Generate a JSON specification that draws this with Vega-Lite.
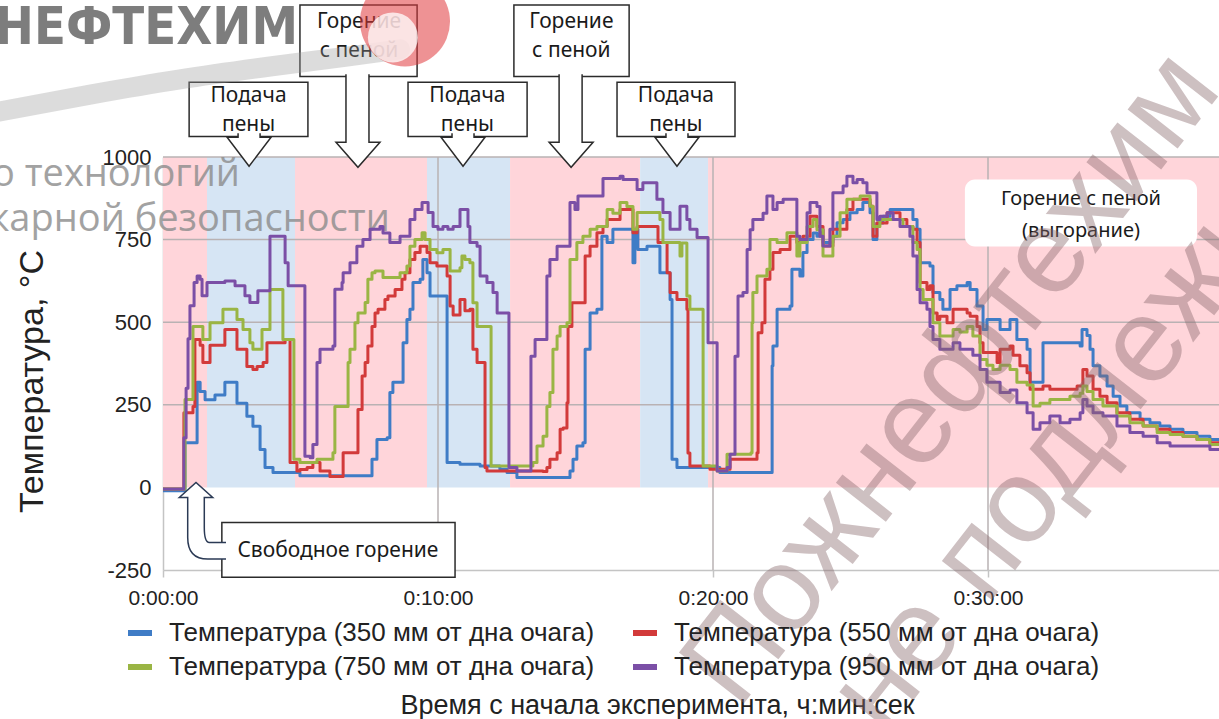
{
"$schema": "https://vega.github.io/schema/vega-lite/v6.json",
"width": 1056, "height": 413,
"autosize": {"type": "none"},
"padding": {"left": 163, "top": 157, "right": 0, "bottom": 149},
"background": "white",
"config": {"view": {"stroke": null}, "font": "Liberation Sans"},
"datasets": {
"bands": [
{"phase":"burn","t0":0,"t1":1.6},{"phase":"foam","t0":1.6,"t1":4.8},{"phase":"burn","t0":4.8,"t1":9.6},{"phase":"foam","t0":9.6,"t1":12.62},{"phase":"burn","t0":12.62,"t1":17.35},{"phase":"foam","t0":17.35,"t1":19.82},{"phase":"burn","t0":19.82,"t1":38.4}],
"hgrid": [{"v":250},{"v":500},{"v":750},{"v":1000}],
"vgrid": [{"t":10},{"t":20},{"t":30}],
"boxes": [
{"t0":0.95,"t1":5.27,"v0":1062,"v1":1226},
{"t0":4.98,"t1":9.24,"v0":1244,"v1":1460},
{"t0":8.91,"t1":13.24,"v0":1062,"v1":1226},
{"t0":12.76,"t1":16.95,"v0":1244,"v1":1460},
{"t0":16.51,"t1":20.8,"v0":1062,"v1":1226},
{"t0":2.14,"t1":10.62,"v0":-272,"v1":-106}],
"rbox": [{"t0":29.16,"t1":37.6,"v0":729,"v1":932}],
"arrows": [
{"t":3.13,"v":972,"kind":"short"},
{"t":7.09,"v":969,"kind":"long"},
{"t":10.91,"v":972,"kind":"short"},
{"t":14.84,"v":969,"kind":"long"},
{"t":18.69,"v":972,"kind":"short"}],
"callout": [{"t":1.2,"v":15}],
"anntop": [
{"t":3.11,"v":1186,"txt":"Подача"},{"t":3.11,"v":1096,"txt":"пены"},
{"t":7.13,"v":1410,"txt":"Горение"},{"t":7.13,"v":1320,"txt":"с пеной"},
{"t":11.07,"v":1186,"txt":"Подача"},{"t":11.07,"v":1096,"txt":"пены"},
{"t":14.85,"v":1410,"txt":"Горение"},{"t":14.85,"v":1320,"txt":"с пеной"},
{"t":18.65,"v":1186,"txt":"Подача"},{"t":18.65,"v":1096,"txt":"пены"},
{"t":6.36,"v":-194,"txt":"Свободное горение"}],
"annright": [{"t":33.38,"v":872,"txt":"Горение с пеной"},{"t":33.38,"v":775,"txt":"(выгорание)"}],
"logo": [{"t":4.91,"v":1341,"txt":"ЖНЕФТЕХИМ"}],
"swoosh": [{"t":-5.93,"v":1138},{"t":-2.65,"v":1189},{"t":0.62,"v":1235},{"t":3.89,"v":1274},{"t":6.69,"v":1304},{"t":8.62,"v":1326}],
"flame": [{"t":8.8,"v":1410}],
"flamecore": [{"t":8.36,"v":1362}],
"wmsmall": [{"t":2.8,"v":911,"txt":"о технологий"},{"t":8.25,"v":775,"txt":"карной безопасности"}],
"wmbig": [{"t":28.7,"v":330,"txt":"Пожнефтехим"}],
"wmbig2": [{"t":25.2,"v":-690,"txt":"не подлежит распространению"}],
"temps": [
{"sensor":"350","t":0,"temp":-10},{"sensor":"350","t":0.65,"temp":-10},{"sensor":"350","t":0.8,"temp":135},{"sensor":"350","t":1.16,"temp":135},{"sensor":"350","t":1.24,"temp":318},{"sensor":"350","t":1.35,"temp":290},{"sensor":"350","t":1.53,"temp":265},{"sensor":"350","t":1.89,"temp":280},{"sensor":"350","t":2.25,"temp":318},{"sensor":"350","t":2.36,"temp":318},{"sensor":"350","t":2.69,"temp":255},{"sensor":"350","t":3.05,"temp":215},{"sensor":"350","t":3.27,"temp":185},{"sensor":"350","t":3.42,"temp":185},{"sensor":"350","t":3.53,"temp":115},{"sensor":"350","t":3.71,"temp":60},{"sensor":"350","t":4.0,"temp":45},{"sensor":"350","t":4.62,"temp":45},{"sensor":"350","t":4.98,"temp":35},{"sensor":"350","t":7.42,"temp":35},{"sensor":"350","t":7.6,"temp":85},{"sensor":"350","t":7.78,"temp":145},{"sensor":"350","t":8.15,"temp":150},{"sensor":"350","t":8.25,"temp":287},{"sensor":"350","t":8.36,"temp":318},{"sensor":"350","t":8.62,"temp":318},{"sensor":"350","t":8.73,"temp":438},{"sensor":"350","t":8.87,"temp":508},{"sensor":"350","t":8.98,"temp":539},{"sensor":"350","t":9.09,"temp":620},{"sensor":"350","t":9.35,"temp":630},{"sensor":"350","t":9.45,"temp":690},{"sensor":"350","t":9.6,"temp":650},{"sensor":"350","t":9.71,"temp":579},{"sensor":"350","t":10.18,"temp":579},{"sensor":"350","t":10.33,"temp":75},{"sensor":"350","t":10.8,"temp":70},{"sensor":"350","t":11.53,"temp":65},{"sensor":"350","t":12.25,"temp":55},{"sensor":"350","t":12.51,"temp":45},{"sensor":"350","t":12.87,"temp":30},{"sensor":"350","t":14.69,"temp":30},{"sensor":"350","t":14.8,"temp":50},{"sensor":"350","t":14.91,"temp":85},{"sensor":"350","t":15.05,"temp":125},{"sensor":"350","t":15.27,"temp":135},{"sensor":"350","t":15.35,"temp":418},{"sensor":"350","t":15.53,"temp":528},{"sensor":"350","t":15.78,"temp":539},{"sensor":"350","t":15.93,"temp":539},{"sensor":"350","t":15.96,"temp":760},{"sensor":"350","t":16.15,"temp":741},{"sensor":"350","t":16.36,"temp":781},{"sensor":"350","t":16.98,"temp":781},{"sensor":"350","t":17.09,"temp":680},{"sensor":"350","t":17.16,"temp":781},{"sensor":"350","t":17.27,"temp":720},{"sensor":"350","t":17.45,"temp":720},{"sensor":"350","t":17.6,"temp":730},{"sensor":"350","t":17.96,"temp":730},{"sensor":"350","t":18.07,"temp":650},{"sensor":"350","t":18.33,"temp":650},{"sensor":"350","t":18.44,"temp":569},{"sensor":"350","t":18.51,"temp":85},{"sensor":"350","t":18.69,"temp":60},{"sensor":"350","t":20.15,"temp":60},{"sensor":"350","t":20.25,"temp":45},{"sensor":"350","t":22.07,"temp":45},{"sensor":"350","t":22.15,"temp":368},{"sensor":"350","t":22.18,"temp":428},{"sensor":"350","t":22.33,"temp":539},{"sensor":"350","t":22.8,"temp":549},{"sensor":"350","t":22.87,"temp":660},{"sensor":"350","t":23.16,"temp":640},{"sensor":"350","t":23.27,"temp":711},{"sensor":"350","t":23.42,"temp":750},{"sensor":"350","t":23.64,"temp":770},{"sensor":"350","t":23.78,"temp":760},{"sensor":"350","t":23.89,"temp":780},{"sensor":"350","t":24.0,"temp":741},{"sensor":"350","t":24.25,"temp":741},{"sensor":"350","t":24.36,"temp":760},{"sensor":"350","t":24.51,"temp":801},{"sensor":"350","t":24.73,"temp":811},{"sensor":"350","t":24.98,"temp":831},{"sensor":"350","t":25.24,"temp":841},{"sensor":"350","t":25.45,"temp":862},{"sensor":"350","t":25.71,"temp":831},{"sensor":"350","t":25.82,"temp":750},{"sensor":"350","t":25.96,"temp":800},{"sensor":"350","t":26.18,"temp":821},{"sensor":"350","t":26.44,"temp":841},{"sensor":"350","t":27.05,"temp":841},{"sensor":"350","t":27.27,"temp":811},{"sensor":"350","t":27.42,"temp":781},{"sensor":"350","t":27.53,"temp":680},{"sensor":"350","t":27.89,"temp":670},{"sensor":"350","t":28.0,"temp":590},{"sensor":"350","t":28.25,"temp":569},{"sensor":"350","t":28.36,"temp":539},{"sensor":"350","t":28.62,"temp":599},{"sensor":"350","t":28.87,"temp":610},{"sensor":"350","t":29.24,"temp":620},{"sensor":"350","t":29.35,"temp":599},{"sensor":"350","t":29.6,"temp":549},{"sensor":"350","t":29.82,"temp":478},{"sensor":"350","t":29.96,"temp":508},{"sensor":"350","t":30.33,"temp":508},{"sensor":"350","t":30.44,"temp":478},{"sensor":"350","t":30.8,"temp":508},{"sensor":"350","t":31.05,"temp":448},{"sensor":"350","t":31.42,"temp":418},{"sensor":"350","t":31.53,"temp":318},{"sensor":"350","t":31.89,"temp":318},{"sensor":"350","t":32.0,"temp":438},{"sensor":"350","t":33.35,"temp":428},{"sensor":"350","t":33.42,"temp":478},{"sensor":"350","t":33.6,"temp":460},{"sensor":"350","t":33.71,"temp":418},{"sensor":"350","t":33.82,"temp":368},{"sensor":"350","t":34.07,"temp":337},{"sensor":"350","t":34.33,"temp":307},{"sensor":"350","t":34.55,"temp":276},{"sensor":"350","t":34.8,"temp":246},{"sensor":"350","t":35.05,"temp":226},{"sensor":"350","t":35.53,"temp":206},{"sensor":"350","t":35.89,"temp":196},{"sensor":"350","t":36.25,"temp":186},{"sensor":"350","t":36.62,"temp":176},{"sensor":"350","t":37.09,"temp":166},{"sensor":"350","t":37.6,"temp":155},{"sensor":"350","t":38.07,"temp":145},{"sensor":"350","t":38.4,"temp":140},
{"sensor":"550","t":0,"temp":-5},{"sensor":"550","t":0.65,"temp":-5},{"sensor":"550","t":0.76,"temp":226},{"sensor":"550","t":1.09,"temp":245},{"sensor":"550","t":1.16,"temp":448},{"sensor":"550","t":1.35,"temp":430},{"sensor":"550","t":1.45,"temp":378},{"sensor":"550","t":1.64,"temp":378},{"sensor":"550","t":1.71,"temp":430},{"sensor":"550","t":1.96,"temp":430},{"sensor":"550","t":2.25,"temp":478},{"sensor":"550","t":2.36,"temp":478},{"sensor":"550","t":2.69,"temp":418},{"sensor":"550","t":3.05,"temp":366},{"sensor":"550","t":3.27,"temp":357},{"sensor":"550","t":3.42,"temp":366},{"sensor":"550","t":3.64,"temp":378},{"sensor":"550","t":3.78,"temp":438},{"sensor":"550","t":4.36,"temp":438},{"sensor":"550","t":4.44,"temp":448},{"sensor":"550","t":4.51,"temp":448},{"sensor":"550","t":4.62,"temp":75},{"sensor":"550","t":4.87,"temp":50},{"sensor":"550","t":4.98,"temp":54},{"sensor":"550","t":5.24,"temp":60},{"sensor":"550","t":5.45,"temp":75},{"sensor":"550","t":5.71,"temp":50},{"sensor":"550","t":6.07,"temp":33},{"sensor":"550","t":6.33,"temp":33},{"sensor":"550","t":6.55,"temp":105},{"sensor":"550","t":7.05,"temp":105},{"sensor":"550","t":7.09,"temp":236},{"sensor":"550","t":7.24,"temp":337},{"sensor":"550","t":7.35,"temp":378},{"sensor":"550","t":7.45,"temp":428},{"sensor":"550","t":7.6,"temp":487},{"sensor":"550","t":7.71,"temp":528},{"sensor":"550","t":7.82,"temp":539},{"sensor":"550","t":7.96,"temp":539},{"sensor":"550","t":8.07,"temp":569},{"sensor":"550","t":8.18,"temp":579},{"sensor":"550","t":8.33,"temp":579},{"sensor":"550","t":8.44,"temp":599},{"sensor":"550","t":8.55,"temp":599},{"sensor":"550","t":8.69,"temp":630},{"sensor":"550","t":8.8,"temp":650},{"sensor":"550","t":8.98,"temp":690},{"sensor":"550","t":9.16,"temp":711},{"sensor":"550","t":9.35,"temp":730},{"sensor":"550","t":9.45,"temp":730},{"sensor":"550","t":9.6,"temp":711},{"sensor":"550","t":9.71,"temp":680},{"sensor":"550","t":9.82,"temp":680},{"sensor":"550","t":9.96,"temp":670},{"sensor":"550","t":10.18,"temp":670},{"sensor":"550","t":10.33,"temp":640},{"sensor":"550","t":10.44,"temp":549},{"sensor":"550","t":10.55,"temp":522},{"sensor":"550","t":10.73,"temp":522},{"sensor":"550","t":10.8,"temp":569},{"sensor":"550","t":10.91,"temp":569},{"sensor":"550","t":10.98,"temp":535},{"sensor":"550","t":11.16,"temp":539},{"sensor":"550","t":11.27,"temp":418},{"sensor":"550","t":11.42,"temp":378},{"sensor":"550","t":11.64,"temp":378},{"sensor":"550","t":11.71,"temp":60},{"sensor":"550","t":11.78,"temp":50},{"sensor":"550","t":13.82,"temp":48},{"sensor":"550","t":13.96,"temp":60},{"sensor":"550","t":14.07,"temp":85},{"sensor":"550","t":14.33,"temp":105},{"sensor":"550","t":14.44,"temp":176},{"sensor":"550","t":14.55,"temp":180},{"sensor":"550","t":14.69,"temp":256},{"sensor":"550","t":14.73,"temp":487},{"sensor":"550","t":14.87,"temp":559},{"sensor":"550","t":15.27,"temp":559},{"sensor":"550","t":15.35,"temp":700},{"sensor":"550","t":15.53,"temp":730},{"sensor":"550","t":15.78,"temp":771},{"sensor":"550","t":16.0,"temp":790},{"sensor":"550","t":16.15,"temp":811},{"sensor":"550","t":16.36,"temp":811},{"sensor":"550","t":16.62,"temp":841},{"sensor":"550","t":16.87,"temp":841},{"sensor":"550","t":17.09,"temp":771},{"sensor":"550","t":17.24,"temp":790},{"sensor":"550","t":17.82,"temp":790},{"sensor":"550","t":18.0,"temp":741},{"sensor":"550","t":18.18,"temp":741},{"sensor":"550","t":18.33,"temp":650},{"sensor":"550","t":18.44,"temp":590},{"sensor":"550","t":18.69,"temp":569},{"sensor":"550","t":18.91,"temp":569},{"sensor":"550","t":19.05,"temp":539},{"sensor":"550","t":19.09,"temp":104},{"sensor":"550","t":19.16,"temp":65},{"sensor":"550","t":19.78,"temp":65},{"sensor":"550","t":19.89,"temp":55},{"sensor":"550","t":20.51,"temp":55},{"sensor":"550","t":20.62,"temp":85},{"sensor":"550","t":21.6,"temp":105},{"sensor":"550","t":21.64,"temp":468},{"sensor":"550","t":21.78,"temp":498},{"sensor":"550","t":21.89,"temp":630},{"sensor":"550","t":22.07,"temp":660},{"sensor":"550","t":22.18,"temp":711},{"sensor":"550","t":22.44,"temp":720},{"sensor":"550","t":22.69,"temp":720},{"sensor":"550","t":22.8,"temp":760},{"sensor":"550","t":23.05,"temp":741},{"sensor":"550","t":23.27,"temp":760},{"sensor":"550","t":23.53,"temp":821},{"sensor":"550","t":23.64,"temp":821},{"sensor":"550","t":23.78,"temp":790},{"sensor":"550","t":24.0,"temp":731},{"sensor":"550","t":24.25,"temp":731},{"sensor":"550","t":24.36,"temp":781},{"sensor":"550","t":24.62,"temp":781},{"sensor":"550","t":24.87,"temp":841},{"sensor":"550","t":25.09,"temp":872},{"sensor":"550","t":25.6,"temp":872},{"sensor":"550","t":25.71,"temp":851},{"sensor":"550","t":25.82,"temp":760},{"sensor":"550","t":25.96,"temp":800},{"sensor":"550","t":26.33,"temp":831},{"sensor":"550","t":26.69,"temp":831},{"sensor":"550","t":26.8,"temp":811},{"sensor":"550","t":27.05,"temp":790},{"sensor":"550","t":27.27,"temp":781},{"sensor":"550","t":27.42,"temp":741},{"sensor":"550","t":27.53,"temp":620},{"sensor":"550","t":27.64,"temp":620},{"sensor":"550","t":27.78,"temp":599},{"sensor":"550","t":27.89,"temp":610},{"sensor":"550","t":28.0,"temp":528},{"sensor":"550","t":28.15,"temp":508},{"sensor":"550","t":28.25,"temp":518},{"sensor":"550","t":28.51,"temp":498},{"sensor":"550","t":28.73,"temp":539},{"sensor":"550","t":29.24,"temp":528},{"sensor":"550","t":29.35,"temp":518},{"sensor":"550","t":29.6,"temp":487},{"sensor":"550","t":29.71,"temp":438},{"sensor":"550","t":29.82,"temp":408},{"sensor":"550","t":30.07,"temp":408},{"sensor":"550","t":30.33,"temp":378},{"sensor":"550","t":30.44,"temp":418},{"sensor":"550","t":30.8,"temp":428},{"sensor":"550","t":30.91,"temp":400},{"sensor":"550","t":31.16,"temp":368},{"sensor":"550","t":31.42,"temp":347},{"sensor":"550","t":31.53,"temp":297},{"sensor":"550","t":32.0,"temp":307},{"sensor":"550","t":32.25,"temp":297},{"sensor":"550","t":33.24,"temp":307},{"sensor":"550","t":33.45,"temp":357},{"sensor":"550","t":33.6,"temp":337},{"sensor":"550","t":33.82,"temp":297},{"sensor":"550","t":34.07,"temp":276},{"sensor":"550","t":34.33,"temp":256},{"sensor":"550","t":34.69,"temp":226},{"sensor":"550","t":35.16,"temp":206},{"sensor":"550","t":35.64,"temp":186},{"sensor":"550","t":36.15,"temp":176},{"sensor":"550","t":36.62,"temp":166},{"sensor":"550","t":37.09,"temp":155},{"sensor":"550","t":37.6,"temp":145},{"sensor":"550","t":38.07,"temp":135},{"sensor":"550","t":38.4,"temp":130},
{"sensor":"750","t":0,"temp":-5},{"sensor":"750","t":0.65,"temp":-5},{"sensor":"750","t":0.8,"temp":266},{"sensor":"750","t":0.98,"temp":266},{"sensor":"750","t":1.09,"temp":487},{"sensor":"750","t":1.35,"temp":487},{"sensor":"750","t":1.45,"temp":448},{"sensor":"750","t":1.71,"temp":498},{"sensor":"750","t":1.96,"temp":498},{"sensor":"750","t":2.18,"temp":539},{"sensor":"750","t":2.44,"temp":539},{"sensor":"750","t":2.69,"temp":508},{"sensor":"750","t":2.91,"temp":478},{"sensor":"750","t":3.16,"temp":438},{"sensor":"750","t":3.27,"temp":418},{"sensor":"750","t":3.53,"temp":418},{"sensor":"750","t":3.6,"temp":478},{"sensor":"750","t":3.78,"temp":478},{"sensor":"750","t":3.89,"temp":599},{"sensor":"750","t":4.33,"temp":599},{"sensor":"750","t":4.36,"temp":448},{"sensor":"750","t":4.73,"temp":448},{"sensor":"750","t":4.76,"temp":85},{"sensor":"750","t":4.98,"temp":75},{"sensor":"750","t":5.6,"temp":85},{"sensor":"750","t":6.18,"temp":105},{"sensor":"750","t":6.25,"temp":245},{"sensor":"750","t":6.69,"temp":245},{"sensor":"750","t":6.73,"temp":378},{"sensor":"750","t":6.8,"temp":418},{"sensor":"750","t":6.91,"temp":418},{"sensor":"750","t":6.98,"temp":498},{"sensor":"750","t":7.09,"temp":528},{"sensor":"750","t":7.27,"temp":528},{"sensor":"750","t":7.35,"temp":560},{"sensor":"750","t":7.45,"temp":630},{"sensor":"750","t":7.6,"temp":650},{"sensor":"750","t":7.71,"temp":655},{"sensor":"750","t":7.89,"temp":655},{"sensor":"750","t":8.0,"temp":635},{"sensor":"750","t":8.51,"temp":635},{"sensor":"750","t":8.62,"temp":650},{"sensor":"750","t":8.73,"temp":650},{"sensor":"750","t":8.87,"temp":670},{"sensor":"750","t":8.98,"temp":730},{"sensor":"750","t":9.16,"temp":750},{"sensor":"750","t":9.35,"temp":750},{"sensor":"750","t":9.42,"temp":771},{"sensor":"750","t":9.53,"temp":750},{"sensor":"750","t":9.71,"temp":720},{"sensor":"750","t":9.96,"temp":710},{"sensor":"750","t":10.18,"temp":720},{"sensor":"750","t":10.33,"temp":720},{"sensor":"750","t":10.44,"temp":655},{"sensor":"750","t":10.8,"temp":665},{"sensor":"750","t":10.87,"temp":700},{"sensor":"750","t":10.98,"temp":690},{"sensor":"750","t":11.16,"temp":680},{"sensor":"750","t":11.27,"temp":559},{"sensor":"750","t":11.42,"temp":487},{"sensor":"750","t":11.89,"temp":487},{"sensor":"750","t":11.93,"temp":65},{"sensor":"750","t":13.35,"temp":65},{"sensor":"750","t":13.45,"temp":75},{"sensor":"750","t":13.6,"temp":125},{"sensor":"750","t":13.82,"temp":155},{"sensor":"750","t":13.96,"temp":245},{"sensor":"750","t":14.07,"temp":287},{"sensor":"750","t":14.18,"temp":418},{"sensor":"750","t":14.33,"temp":458},{"sensor":"750","t":14.44,"temp":487},{"sensor":"750","t":14.69,"temp":498},{"sensor":"750","t":14.8,"temp":690},{"sensor":"750","t":15.05,"temp":741},{"sensor":"750","t":15.27,"temp":760},{"sensor":"750","t":15.53,"temp":781},{"sensor":"750","t":15.78,"temp":790},{"sensor":"750","t":16.0,"temp":790},{"sensor":"750","t":16.15,"temp":841},{"sensor":"750","t":16.36,"temp":830},{"sensor":"750","t":16.62,"temp":862},{"sensor":"750","t":16.87,"temp":850},{"sensor":"750","t":17.09,"temp":781},{"sensor":"750","t":17.24,"temp":832},{"sensor":"750","t":17.96,"temp":832},{"sensor":"750","t":18.07,"temp":811},{"sensor":"750","t":18.18,"temp":741},{"sensor":"750","t":18.69,"temp":741},{"sensor":"750","t":18.8,"temp":700},{"sensor":"750","t":18.87,"temp":740},{"sensor":"750","t":18.98,"temp":740},{"sensor":"750","t":19.05,"temp":579},{"sensor":"750","t":19.16,"temp":539},{"sensor":"750","t":19.6,"temp":539},{"sensor":"750","t":19.64,"temp":65},{"sensor":"750","t":20.0,"temp":65},{"sensor":"750","t":20.15,"temp":50},{"sensor":"750","t":20.51,"temp":100},{"sensor":"750","t":21.38,"temp":105},{"sensor":"750","t":21.42,"temp":498},{"sensor":"750","t":21.45,"temp":590},{"sensor":"750","t":21.6,"temp":640},{"sensor":"750","t":21.82,"temp":640},{"sensor":"750","t":21.96,"temp":660},{"sensor":"750","t":22.07,"temp":750},{"sensor":"750","t":22.33,"temp":741},{"sensor":"750","t":22.55,"temp":741},{"sensor":"750","t":22.69,"temp":771},{"sensor":"750","t":22.91,"temp":771},{"sensor":"750","t":23.05,"temp":700},{"sensor":"750","t":23.16,"temp":741},{"sensor":"750","t":23.42,"temp":790},{"sensor":"750","t":23.64,"temp":811},{"sensor":"750","t":23.78,"temp":780},{"sensor":"750","t":23.89,"temp":780},{"sensor":"750","t":24.0,"temp":700},{"sensor":"750","t":24.25,"temp":700},{"sensor":"750","t":24.36,"temp":760},{"sensor":"750","t":24.62,"temp":831},{"sensor":"750","t":24.87,"temp":872},{"sensor":"750","t":25.09,"temp":872},{"sensor":"750","t":25.35,"temp":882},{"sensor":"750","t":25.6,"temp":882},{"sensor":"750","t":25.71,"temp":851},{"sensor":"750","t":25.82,"temp":790},{"sensor":"750","t":26.07,"temp":811},{"sensor":"750","t":26.69,"temp":811},{"sensor":"750","t":26.91,"temp":790},{"sensor":"750","t":27.16,"temp":790},{"sensor":"750","t":27.27,"temp":741},{"sensor":"750","t":27.42,"temp":720},{"sensor":"750","t":27.53,"temp":599},{"sensor":"750","t":27.64,"temp":569},{"sensor":"750","t":27.89,"temp":569},{"sensor":"750","t":28.0,"temp":498},{"sensor":"750","t":28.25,"temp":458},{"sensor":"750","t":28.51,"temp":458},{"sensor":"750","t":28.73,"temp":478},{"sensor":"750","t":28.98,"temp":470},{"sensor":"750","t":29.24,"temp":487},{"sensor":"750","t":29.45,"temp":458},{"sensor":"750","t":29.71,"temp":387},{"sensor":"750","t":29.96,"temp":370},{"sensor":"750","t":30.18,"temp":357},{"sensor":"750","t":30.44,"temp":370},{"sensor":"750","t":30.8,"temp":357},{"sensor":"750","t":31.05,"temp":318},{"sensor":"750","t":31.42,"temp":310},{"sensor":"750","t":31.64,"temp":246},{"sensor":"750","t":31.89,"temp":255},{"sensor":"750","t":32.25,"temp":266},{"sensor":"750","t":32.73,"temp":266},{"sensor":"750","t":32.98,"temp":276},{"sensor":"750","t":33.35,"temp":285},{"sensor":"750","t":33.45,"temp":307},{"sensor":"750","t":33.6,"temp":290},{"sensor":"750","t":33.82,"temp":266},{"sensor":"750","t":34.18,"temp":246},{"sensor":"750","t":34.69,"temp":216},{"sensor":"750","t":35.16,"temp":196},{"sensor":"750","t":35.64,"temp":186},{"sensor":"750","t":36.15,"temp":166},{"sensor":"750","t":36.62,"temp":160},{"sensor":"750","t":37.09,"temp":155},{"sensor":"750","t":37.6,"temp":145},{"sensor":"750","t":38.07,"temp":130},{"sensor":"750","t":38.4,"temp":125},
{"sensor":"950","t":0,"temp":-5},{"sensor":"950","t":0.65,"temp":-5},{"sensor":"950","t":0.76,"temp":150},{"sensor":"950","t":0.84,"temp":300},{"sensor":"950","t":0.91,"temp":450},{"sensor":"950","t":0.98,"temp":550},{"sensor":"950","t":1.13,"temp":620},{"sensor":"950","t":1.24,"temp":640},{"sensor":"950","t":1.35,"temp":630},{"sensor":"950","t":1.42,"temp":580},{"sensor":"950","t":1.53,"temp":580},{"sensor":"950","t":1.6,"temp":620},{"sensor":"950","t":2.25,"temp":625},{"sensor":"950","t":2.62,"temp":610},{"sensor":"950","t":2.98,"temp":580},{"sensor":"950","t":3.16,"temp":560},{"sensor":"950","t":3.42,"temp":560},{"sensor":"950","t":3.45,"temp":595},{"sensor":"950","t":3.82,"temp":595},{"sensor":"950","t":3.89,"temp":760},{"sensor":"950","t":4.36,"temp":760},{"sensor":"950","t":4.44,"temp":680},{"sensor":"950","t":4.55,"temp":610},{"sensor":"950","t":5.09,"temp":610},{"sensor":"950","t":5.16,"temp":94},{"sensor":"950","t":5.35,"temp":90},{"sensor":"950","t":5.45,"temp":130},{"sensor":"950","t":5.56,"temp":130},{"sensor":"950","t":5.6,"temp":378},{"sensor":"950","t":5.71,"temp":418},{"sensor":"950","t":6.18,"temp":428},{"sensor":"950","t":6.25,"temp":600},{"sensor":"950","t":6.51,"temp":620},{"sensor":"950","t":6.55,"temp":650},{"sensor":"950","t":6.69,"temp":650},{"sensor":"950","t":6.8,"temp":680},{"sensor":"950","t":6.91,"temp":680},{"sensor":"950","t":7.05,"temp":730},{"sensor":"950","t":7.16,"temp":730},{"sensor":"950","t":7.27,"temp":750},{"sensor":"950","t":7.42,"temp":750},{"sensor":"950","t":7.53,"temp":781},{"sensor":"950","t":7.89,"temp":790},{"sensor":"950","t":8.0,"temp":770},{"sensor":"950","t":8.25,"temp":741},{"sensor":"950","t":8.51,"temp":741},{"sensor":"950","t":8.62,"temp":760},{"sensor":"950","t":8.87,"temp":760},{"sensor":"950","t":8.98,"temp":811},{"sensor":"950","t":9.16,"temp":841},{"sensor":"950","t":9.27,"temp":841},{"sensor":"950","t":9.42,"temp":862},{"sensor":"950","t":9.53,"temp":862},{"sensor":"950","t":9.64,"temp":832},{"sensor":"950","t":9.82,"temp":790},{"sensor":"950","t":10.0,"temp":781},{"sensor":"950","t":10.18,"temp":790},{"sensor":"950","t":10.36,"temp":781},{"sensor":"950","t":10.55,"temp":790},{"sensor":"950","t":10.8,"temp":841},{"sensor":"950","t":10.98,"temp":841},{"sensor":"950","t":11.09,"temp":790},{"sensor":"950","t":11.16,"temp":741},{"sensor":"950","t":11.42,"temp":730},{"sensor":"950","t":11.53,"temp":640},{"sensor":"950","t":11.78,"temp":620},{"sensor":"950","t":12.0,"temp":590},{"sensor":"950","t":12.15,"temp":528},{"sensor":"950","t":12.51,"temp":528},{"sensor":"950","t":12.58,"temp":60},{"sensor":"950","t":12.87,"temp":50},{"sensor":"950","t":13.35,"temp":50},{"sensor":"950","t":13.38,"temp":397},{"sensor":"950","t":13.53,"temp":448},{"sensor":"950","t":13.64,"temp":448},{"sensor":"950","t":13.96,"temp":640},{"sensor":"950","t":14.07,"temp":690},{"sensor":"950","t":14.33,"temp":730},{"sensor":"950","t":14.69,"temp":730},{"sensor":"950","t":14.8,"temp":862},{"sensor":"950","t":14.98,"temp":841},{"sensor":"950","t":15.09,"temp":882},{"sensor":"950","t":15.89,"temp":882},{"sensor":"950","t":16.0,"temp":935},{"sensor":"950","t":16.62,"temp":942},{"sensor":"950","t":16.73,"temp":932},{"sensor":"950","t":17.09,"temp":932},{"sensor":"950","t":17.24,"temp":902},{"sensor":"950","t":17.45,"temp":922},{"sensor":"950","t":17.82,"temp":922},{"sensor":"950","t":17.96,"temp":872},{"sensor":"950","t":18.18,"temp":832},{"sensor":"950","t":18.44,"temp":781},{"sensor":"950","t":18.69,"temp":781},{"sensor":"950","t":18.8,"temp":851},{"sensor":"950","t":19.05,"temp":811},{"sensor":"950","t":19.16,"temp":781},{"sensor":"950","t":19.42,"temp":756},{"sensor":"950","t":19.78,"temp":756},{"sensor":"950","t":19.82,"temp":438},{"sensor":"950","t":20.07,"temp":438},{"sensor":"950","t":20.15,"temp":50},{"sensor":"950","t":20.51,"temp":60},{"sensor":"950","t":20.62,"temp":100},{"sensor":"950","t":20.8,"temp":397},{"sensor":"950","t":20.91,"temp":579},{"sensor":"950","t":21.09,"temp":590},{"sensor":"950","t":21.24,"temp":720},{"sensor":"950","t":21.35,"temp":780},{"sensor":"950","t":21.45,"temp":811},{"sensor":"950","t":21.71,"temp":811},{"sensor":"950","t":21.82,"temp":830},{"sensor":"950","t":21.96,"temp":882},{"sensor":"950","t":22.07,"temp":882},{"sensor":"950","t":22.18,"temp":841},{"sensor":"950","t":22.33,"temp":862},{"sensor":"950","t":22.55,"temp":872},{"sensor":"950","t":22.91,"temp":872},{"sensor":"950","t":23.05,"temp":760},{"sensor":"950","t":23.16,"temp":750},{"sensor":"950","t":23.42,"temp":831},{"sensor":"950","t":23.53,"temp":862},{"sensor":"950","t":23.78,"temp":850},{"sensor":"950","t":23.89,"temp":760},{"sensor":"950","t":24.0,"temp":731},{"sensor":"950","t":24.25,"temp":781},{"sensor":"950","t":24.36,"temp":892},{"sensor":"950","t":24.51,"temp":892},{"sensor":"950","t":24.73,"temp":912},{"sensor":"950","t":24.87,"temp":942},{"sensor":"950","t":25.09,"temp":922},{"sensor":"950","t":25.24,"temp":932},{"sensor":"950","t":25.45,"temp":922},{"sensor":"950","t":25.6,"temp":892},{"sensor":"950","t":25.82,"temp":892},{"sensor":"950","t":25.96,"temp":811},{"sensor":"950","t":26.07,"temp":821},{"sensor":"950","t":26.33,"temp":831},{"sensor":"950","t":26.55,"temp":811},{"sensor":"950","t":26.8,"temp":790},{"sensor":"950","t":27.05,"temp":790},{"sensor":"950","t":27.16,"temp":760},{"sensor":"950","t":27.27,"temp":700},{"sensor":"950","t":27.42,"temp":599},{"sensor":"950","t":27.53,"temp":559},{"sensor":"950","t":27.78,"temp":539},{"sensor":"950","t":27.89,"temp":487},{"sensor":"950","t":28.0,"temp":448},{"sensor":"950","t":28.25,"temp":418},{"sensor":"950","t":28.51,"temp":418},{"sensor":"950","t":28.73,"temp":438},{"sensor":"950","t":28.98,"temp":418},{"sensor":"950","t":29.24,"temp":418},{"sensor":"950","t":29.45,"temp":400},{"sensor":"950","t":29.71,"temp":357},{"sensor":"950","t":29.96,"temp":318},{"sensor":"950","t":30.18,"temp":318},{"sensor":"950","t":30.44,"temp":287},{"sensor":"950","t":30.8,"temp":295},{"sensor":"950","t":31.05,"temp":256},{"sensor":"950","t":31.42,"temp":226},{"sensor":"950","t":31.64,"temp":176},{"sensor":"950","t":31.89,"temp":196},{"sensor":"950","t":32.25,"temp":216},{"sensor":"950","t":32.62,"temp":196},{"sensor":"950","t":32.98,"temp":206},{"sensor":"950","t":33.35,"temp":226},{"sensor":"950","t":33.45,"temp":266},{"sensor":"950","t":33.6,"temp":246},{"sensor":"950","t":33.82,"temp":226},{"sensor":"950","t":34.18,"temp":216},{"sensor":"950","t":34.69,"temp":186},{"sensor":"950","t":35.16,"temp":166},{"sensor":"950","t":35.64,"temp":155},{"sensor":"950","t":36.15,"temp":135},{"sensor":"950","t":36.62,"temp":125},{"sensor":"950","t":37.6,"temp":125},{"sensor":"950","t":38.07,"temp":115},{"sensor":"950","t":38.4,"temp":110}
]},
"layer": [
{"data": {"name": "temps"}, "mark": {"type": "line", "strokeWidth": 3, "strokeJoin": "round", "interpolate": "step-after", "opacity": 0},
 "encoding": {
  "x": {"field": "t", "type": "quantitative", "scale": {"domain": [0, 38.4], "nice": false, "zero": false},
   "axis": {"values": [0, 10, 20, 30], "labelExpr": "'0:' + (datum.value < 10 ? '0' : '') + datum.value + ':00'", "grid": false, "labelFlush": false,
    "domainColor": "#c4c4c4", "domainWidth": 1.5, "tickColor": "#c4c4c4", "tickWidth": 1.5, "tickSize": 7,
    "labelFont": "Liberation Sans", "labelFontSize": 21, "labelColor": "#222", "labelPadding": 10,
    "title": "Время с начала эксперимента, ч:мин:сек", "titleFont": "Liberation Sans", "titleFontSize": 27, "titleFontWeight": "normal", "titleColor": "#222",
    "titleX": 494, "titleY": 143, "titleBaseline": "alphabetic", "titleAlign": "center"}},
  "y": {"field": "temp", "type": "quantitative", "scale": {"domain": [-250, 1000], "nice": false, "zero": false},
   "axis": {"values": [-250, 0, 250, 500, 750, 1000], "labelExpr": "'' + datum.value", "grid": false, "ticks": false,
    "domainColor": "#c4c4c4", "domainWidth": 1.5,
    "labelFont": "Liberation Sans", "labelFontSize": 22, "labelColor": "#222", "labelPadding": 12,
    "title": "Температура, °С", "titleFont": "Liberation Sans", "titleFontSize": 34, "titleFontWeight": "normal", "titleColor": "#222",
    "titleX": -121, "titleY": 224, "titleBaseline": "alphabetic", "titleAlign": "center", "titleAngle": -90}},
  "detail": {"field": "sensor", "type": "nominal"}}},
{"data": {"name": "bands"}, "mark": {"type": "rect"},
 "encoding": {"x": {"field": "t0", "type": "quantitative"}, "x2": {"field": "t1"},
  "y": {"datum": 0, "type": "quantitative"}, "y2": {"datum": 1000},
  "fill": {"field": "phase", "type": "nominal", "scale": {"domain": ["burn", "foam"], "range": ["#ffd5da", "#d6e5f4"]}, "legend": null}}},
{"data": {"name": "hgrid"}, "mark": {"type": "rule", "color": "#b9b2b3", "strokeWidth": 1.5},
 "encoding": {"y": {"field": "v", "type": "quantitative"}}},
{"data": {"name": "vgrid"}, "mark": {"type": "rule", "color": "#b9b2b3", "strokeWidth": 1.5},
 "encoding": {"x": {"field": "t", "type": "quantitative"}}},
{"data": {"name": "wmsmall"}, "mark": {"type": "text", "font": "Open Sans", "fontSize": 38, "color": "#8c8c8c", "opacity": 0.8, "align": "right", "baseline": "alphabetic"},
 "encoding": {"x": {"field": "t", "type": "quantitative"}, "y": {"field": "v", "type": "quantitative"}, "text": {"field": "txt"}}},
{"data": {"name": "logo"}, "mark": {"type": "text", "font": "DejaVu Sans Condensed", "fontWeight": "bold", "fontSize": 52, "color": "#7d7d7d", "align": "right", "baseline": "alphabetic"},
 "encoding": {"x": {"field": "t", "type": "quantitative"}, "y": {"field": "v", "type": "quantitative"}, "text": {"field": "txt"}}},
{"mark": {"type": "rule", "color": "#3a3a3a", "strokeWidth": 2},
 "encoding": {"y": {"datum": 0, "type": "quantitative"}}},
{"data": {"name": "temps"}, "mark": {"type": "line", "strokeWidth": 3, "strokeJoin": "round", "interpolate": "step-after"},
 "encoding": {
  "x": {"field": "t", "type": "quantitative"},
  "y": {"field": "temp", "type": "quantitative"},
  "color": {"field": "sensor", "type": "nominal",
   "scale": {"domain": ["350", "550", "750", "950"], "range": ["#3f7cc6", "#d23a3a", "#9ab544", "#7b4fa6"]},
   "legend": {"orient": "none", "legendX": -38, "legendY": 461, "columns": 2, "direction": "horizontal", "title": null, "padding": 0,
    "symbolType": "stroke", "symbolStrokeWidth": 6, "symbolSize": 576, "labelOffset": 14,
    "labelFont": "Liberation Sans", "labelFontSize": 26, "labelColor": "#222", "labelLimit": 700,
    "columnPadding": 26, "rowPadding": 6,
    "labelExpr": "'Температура (' + datum.label + ' мм от дна очага)'"}}}},
{"data": {"name": "rbox"}, "mark": {"type": "rect", "fill": "white", "cornerRadius": 10},
 "encoding": {"x": {"field": "t0", "type": "quantitative"}, "x2": {"field": "t1"},
  "y": {"field": "v0", "type": "quantitative"}, "y2": {"field": "v1"}}},
{"data": {"name": "boxes"}, "mark": {"type": "rect", "fill": "white", "stroke": "#2b2b2b", "strokeWidth": 1.5},
 "encoding": {"x": {"field": "t0", "type": "quantitative"}, "x2": {"field": "t1"},
  "y": {"field": "v0", "type": "quantitative"}, "y2": {"field": "v1"}}},
{"data": {"name": "arrows"}, "mark": {"type": "point", "filled": true, "fill": "white", "stroke": "#2b2b2b", "strokeWidth": 1.5, "size": 4, "opacity": 1},
 "encoding": {"x": {"field": "t", "type": "quantitative"}, "y": {"field": "v", "type": "quantitative"},
  "shape": {"field": "kind", "type": "nominal", "legend": null,
   "scale": {"domain": ["short", "long"], "range": ["M -11 -33 L -11 -29 L -22 -29 L 0 0 L 22 -29 L 11 -29 L 11 -33", "M -12 -93 L -12 -25 L -22 -25 L 0 0 L 22 -25 L 11 -25 L 11 -93"]}}}},
{"data": {"name": "callout"}, "mark": {"type": "point", "filled": true, "fill": "white", "stroke": "#2b3a55", "strokeWidth": 1.5, "size": 4, "opacity": 1,
  "shape": "M 30 60 L 13.3 60 Q 8.3 60 8.3 45 L 8.3 15 L 16.7 15 L 0 0 L -16.7 15 L -8.3 15 L -8.3 55 Q -8.3 76.6 11.7 76.6 L 30 76.6"},
 "encoding": {"x": {"field": "t", "type": "quantitative"}, "y": {"field": "v", "type": "quantitative"}}},
{"data": {"name": "anntop"}, "mark": {"type": "text", "font": "Noto Sans", "fontSize": 21, "color": "#1a1a1a", "align": "center", "baseline": "middle"},
 "encoding": {"x": {"field": "t", "type": "quantitative"}, "y": {"field": "v", "type": "quantitative"}, "text": {"field": "txt"}}},
{"data": {"name": "annright"}, "mark": {"type": "text", "font": "Noto Sans", "fontSize": 20, "color": "#1a1a1a", "align": "center", "baseline": "middle"},
 "encoding": {"x": {"field": "t", "type": "quantitative"}, "y": {"field": "v", "type": "quantitative"}, "text": {"field": "txt"}}},
{"data": {"name": "swoosh"}, "mark": {"type": "line", "color": "#9a9a9a", "strokeWidth": 20, "opacity": 0.35, "strokeCap": "round", "interpolate": "monotone"},
 "encoding": {"x": {"field": "t", "type": "quantitative"}, "y": {"field": "v", "type": "quantitative"}}},
{"data": {"name": "flame"}, "mark": {"type": "point", "shape": "circle", "filled": true, "color": "#e0383d", "opacity": 0.55, "size": 8100},
 "encoding": {"x": {"field": "t", "type": "quantitative"}, "y": {"field": "v", "type": "quantitative"}}},
{"data": {"name": "flamecore"}, "mark": {"type": "point", "shape": "circle", "filled": true, "color": "#ffffff", "opacity": 0.75, "size": 2500},
 "encoding": {"x": {"field": "t", "type": "quantitative"}, "y": {"field": "v", "type": "quantitative"}}},
{"data": {"name": "wmbig"}, "mark": {"type": "text", "font": "Liberation Sans", "fontSize": 120, "color": "#8a6a6e", "opacity": 0.42, "align": "center", "baseline": "middle", "angle": -52},
 "encoding": {"x": {"field": "t", "type": "quantitative"}, "y": {"field": "v", "type": "quantitative"}, "text": {"field": "txt"}}},
{"data": {"name": "wmbig2"}, "mark": {"type": "text", "font": "Liberation Sans", "fontSize": 120, "color": "#8a6a6e", "opacity": 0.42, "align": "left", "baseline": "middle", "angle": -52},
 "encoding": {"x": {"field": "t", "type": "quantitative"}, "y": {"field": "v", "type": "quantitative"}, "text": {"field": "txt"}}}
]
}
